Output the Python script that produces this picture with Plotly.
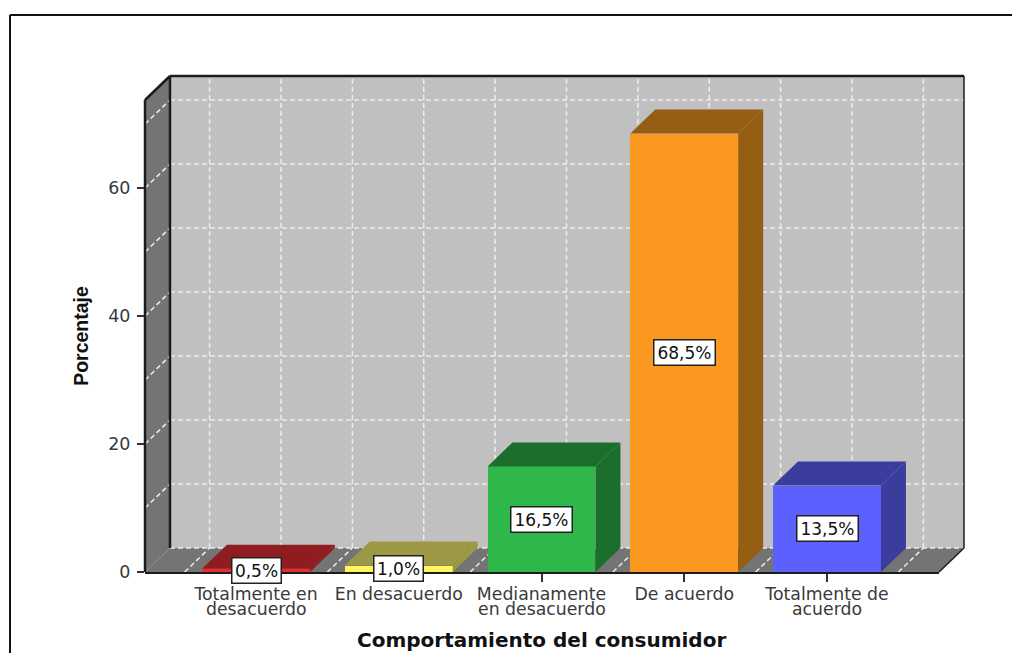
import plotly.graph_objects as go

positions = [0, 1, 2, 3, 4]
first_lines = ["Totalmente en", "En desacuerdo", "Medianamente", "De acuerdo", "Totalmente de"]
second_lines = ["desacuerdo", "", "en desacuerdo", "", "acuerdo"]
values = [0.5, 1.0, 16.5, 68.5, 13.5]
value_labels = ["0,5%", "1,0%", "16,5%", "68,5%", "13,5%"]
front_colors = ["#ee2a2e", "#fdf65f", "#2eb84a", "#fb981f", "#5c60ff"]
top_colors = ["#8e1c20", "#9c9845", "#1b6e2c", "#955e12", "#3a3c9e"]
y_ticks = [0, 20, 40, 60]
y_grid = [10, 20, 30, 40, 50, 60, 70]
x_grid = [-0.5, 0, 0.5, 1, 1.5, 2, 2.5, 3, 3.5, 4, 4.5]

X0, X1 = -0.7776, 4.9597
Y1 = 77.5
DX, DY = 0.175, 3.75
BAR_W = 0.756
FONT = "DejaVu Sans"
TXT = "#3a3a3a"
GRID = dict(color="#ececec", width=1.5, dash="5px,3px")
EDGE = "#1c1c1c"


def poly(pts):
    return "M " + " L ".join(f"{x} {y}" for x, y in pts) + " Z"


def under(path, fill):
    return dict(type="path", path=path, fillcolor=fill, line=dict(width=0),
                xref="x", yref="y", layer="below")


def seg(x0, y0, x1, y1, line):
    return dict(type="line", x0=x0, y0=y0, x1=x1, y1=y1, line=line,
                xref="x", yref="y", layer="below")


def px(x):
    return (x - X0) / (X1 - X0)


def py(y):
    return y / Y1


def edge(x0, y0, x1, y1, line):
    # paper-referenced so that the line is not clipped at the plot area's border
    return dict(type="line", x0=px(x0), y0=py(y0), x1=px(x1), y1=py(y1), line=line,
                xref="paper", yref="paper", layer="above")


shapes = [
    under(poly([(X0 + DX, DY), (X1, DY), (X1, Y1), (X0 + DX, Y1)]), "#c0c0c0"),
    under(poly([(X0, 0), (X0 + DX, DY), (X0 + DX, Y1), (X0, Y1 - DY)]), "#747474"),
    under(poly([(X0, 0), (X1 - DX, 0), (X1, DY), (X0 + DX, DY)]), "#747474"),
]
for k in y_grid:
    shapes.append(seg(X0 + DX, k + DY, X1, k + DY, GRID))
    shapes.append(seg(X0, k, X0 + DX, k + DY, GRID))
shapes.append(seg(X0 + DX, DY, X1, DY, GRID))
for g in x_grid:
    shapes.append(seg(g + DX, DY, g + DX, Y1, GRID))
    shapes.append(seg(g, 0, g + DX, DY, GRID))
edge2 = dict(color=EDGE, width=2.5)
edge1 = dict(color=EDGE, width=1.5)
shapes += [
    edge(X0, 0, X0, Y1 - DY, edge2),
    edge(X0 + DX, DY, X0 + DX, Y1, edge2),
    edge(X0, Y1 - DY, X0 + DX, Y1, edge2),
    edge(X0 + DX, Y1, X1, Y1, edge2),
    edge(X1, DY, X1, Y1, edge1),
    edge(X0, -0.15, X1 - DX, -0.15, dict(color=EDGE, width=2)),
    edge(X1 - DX, 0, X1, DY, edge1),
]
# outer frame of the picture, running off the right and bottom edges
frame = dict(color="#111111", width=2)
shapes.append(dict(type="line", xref="paper", yref="paper",
                   x0=(10 - 145) / 819, x1=(1012 - 145) / 819,
                   y0=(653 - 81 - 15) / 496, y1=(653 - 81 - 15) / 496, line=frame))
shapes.append(dict(type="line", xref="paper", yref="paper",
                   x0=(10 - 145) / 819, x1=(10 - 145) / 819,
                   y0=(653 - 81 - 15) / 496, y1=(653 - 81 - 653) / 496, line=frame))

fig = go.Figure()
fig.add_trace(go.Bar(x=positions, y=values, width=BAR_W,
                     marker=dict(color=front_colors, line=dict(width=0)),
                     showlegend=False, hoverinfo="skip"))
for x, v, tc in zip(positions, values, top_colors):
    l, r = x - BAR_W / 2, x + BAR_W / 2
    fig.add_trace(go.Scatter(
        x=[l, r, r + DX, l + DX, l], y=[v, v, v + DY, v + DY, v],
        mode="lines", fill="toself", fillcolor=tc, line=dict(width=0),
        showlegend=False, hoverinfo="skip"))
    fig.add_trace(go.Scatter(
        x=[r, r, r + DX, r + DX, r], y=[0, v, v + DY, DY, 0],
        mode="lines", fill="toself", fillcolor=tc, line=dict(width=0),
        showlegend=False, hoverinfo="skip"))

annotations = []
for x, v, lab in zip(positions, values, value_labels):
    annotations.append(dict(x=x, y=v / 2, xref="x", yref="y", text=lab, showarrow=False,
                            font=dict(family=FONT, size=17, color="#111111"),
                            bgcolor="white", bordercolor="#222222", borderwidth=1.5,
                            borderpad=0, width=12 * len(lab), height=24))
for x, line in zip(positions, second_lines):
    if line:
        annotations.append(dict(x=x, xref="x", yref="paper", y=0, yanchor="middle",
                                yshift=-37, text=line, showarrow=False,
                                font=dict(family=FONT, size=17.3, color=TXT)))
annotations.append(dict(x=px(2), xref="paper", yref="paper", y=0, yanchor="middle",
                        yshift=-68, text="<b>Comportamiento del consumidor</b>", showarrow=False,
                        font=dict(family=FONT, size=20, color="#111111")))
annotations.append(dict(x=(81 - 145) / 819, xref="paper", xanchor="center",
                        y=py(36.9), yref="paper", yanchor="middle", textangle=-90,
                        text="<b>Porcentaje</b>", showarrow=False,
                        font=dict(family="Liberation Sans", size=19.5, color="#111111")))

fig.update_layout(
    width=1012, height=653, autosize=False,
    margin=dict(l=145, r=48, t=76, b=81, pad=0),
    paper_bgcolor="white", plot_bgcolor="white",
    shapes=shapes, annotations=annotations, bargap=0,
    xaxis=dict(range=[X0, X1], tickmode="array", tickvals=positions, ticktext=first_lines,
               ticks="outside", ticklen=9, tickwidth=1.5, tickcolor="#333333",
               ticklabelstandoff=-3,
               showgrid=False, zeroline=False, showline=False, automargin=False,
               tickangle=0, tickfont=dict(family=FONT, size=17.3, color=TXT)),
    yaxis=dict(range=[0, Y1], tickmode="array", tickvals=y_ticks,
               ticks="outside", ticklen=7, tickwidth=1.5, tickcolor="#333333",
               ticklabelstandoff=3,
               showgrid=False, zeroline=False, showline=False, automargin=False,
               tickfont=dict(family=FONT, size=17.5, color=TXT)),
)
fig.write_html("out.html", config=dict(displayModeBar=False),
               post_script="document.body.style.margin='0';document.body.style.overflow='hidden';")
